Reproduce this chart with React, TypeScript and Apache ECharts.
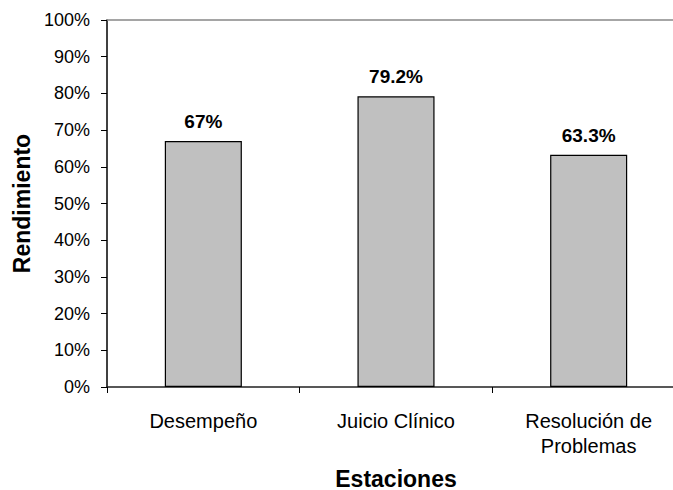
import React, { useEffect, useRef } from "react";
import * as echarts from "echarts";

const categories = ["Desempeño", "Juicio Clínico", "Resolución de\nProblemas"];
const values = [67, 79.2, 63.3];
const valueLabels = ["67%", "79.2%", "63.3%"];
const yMin = 0;
const yMax = 100;
const yInterval = 10;
const xName = "Estaciones";
const yName = "Rendimiento";

const FONT = "'Liberation Sans', Arial, sans-serif";

export default function App() {
  const ref = useRef<HTMLDivElement>(null);
  useEffect(() => {
    if (!ref.current) return;
    const chart = echarts.init(ref.current, undefined, { renderer: "svg" });
    chart.setOption({
      animation: false,
      backgroundColor: "#ffffff",
      textStyle: { fontFamily: FONT },
      grid: {
        left: 107,
        top: 20,
        right: 15,
        bottom: 103,
        containLabel: false,
        outerBoundsMode: "none",
      },
      xAxis: [
        {
          type: "category",
          data: categories,
          position: "bottom",
          name: xName,
          nameLocation: "middle",
          nameGap: 80,
          nameTextStyle: { fontFamily: FONT, fontSize: 23, fontWeight: "bold", color: "#000" },
          axisLine: { lineStyle: { color: "#202020", width: 1.5 } },
          axisTick: { show: true, length: 6, lineStyle: { color: "#000" } },
          axisLabel: {
            fontFamily: FONT,
            fontSize: 20,
            color: "#000",
            margin: 21,
            lineHeight: 25,
            interval: 0,
          },
          splitLine: { show: false },
        },
        {
          type: "category",
          data: categories,
          position: "top",
          axisLine: { lineStyle: { color: "#888888", width: 1.5 } },
          axisTick: { show: false },
          axisLabel: { show: false },
          splitLine: { show: false },
        },
      ],
      yAxis: {
        type: "value",
        min: yMin,
        max: yMax,
        interval: yInterval,
        name: yName,
        nameLocation: "middle",
        nameGap: 72,
        nameRotate: 90,
        nameTextStyle: { fontFamily: FONT, fontSize: 23, fontWeight: "bold", color: "#000" },
        axisLine: { show: true, lineStyle: { color: "#000", width: 1.5 } },
        axisTick: { show: true, length: 6, lineStyle: { color: "#000" } },
        axisLabel: {
          fontFamily: FONT,
          fontSize: 18,
          color: "#000",
          margin: 17,
          formatter: "{value}%",
        },
        splitLine: { show: false },
      },
      series: [
        {
          type: "bar",
          data: values,
          barWidth: "40%",
          itemStyle: { color: "#c0c0c0", borderColor: "#000", borderWidth: 1.2 },
          label: {
            show: true,
            position: "top",
            distance: 10,
            fontFamily: FONT,
            fontSize: 19,
            fontWeight: "bold",
            color: "#000",
            formatter: (p: any) => valueLabels[p.dataIndex],
          },
        },
      ],
    });
    return () => chart.dispose();
  }, []);
  return (
    <div style={{ position: "fixed", left: 0, top: 0, width: 673, height: 490, overflow: "hidden", background: "#fff" }}>
      <div ref={ref} style={{ width: 700, height: 490 }} />
    </div>
  );
}
